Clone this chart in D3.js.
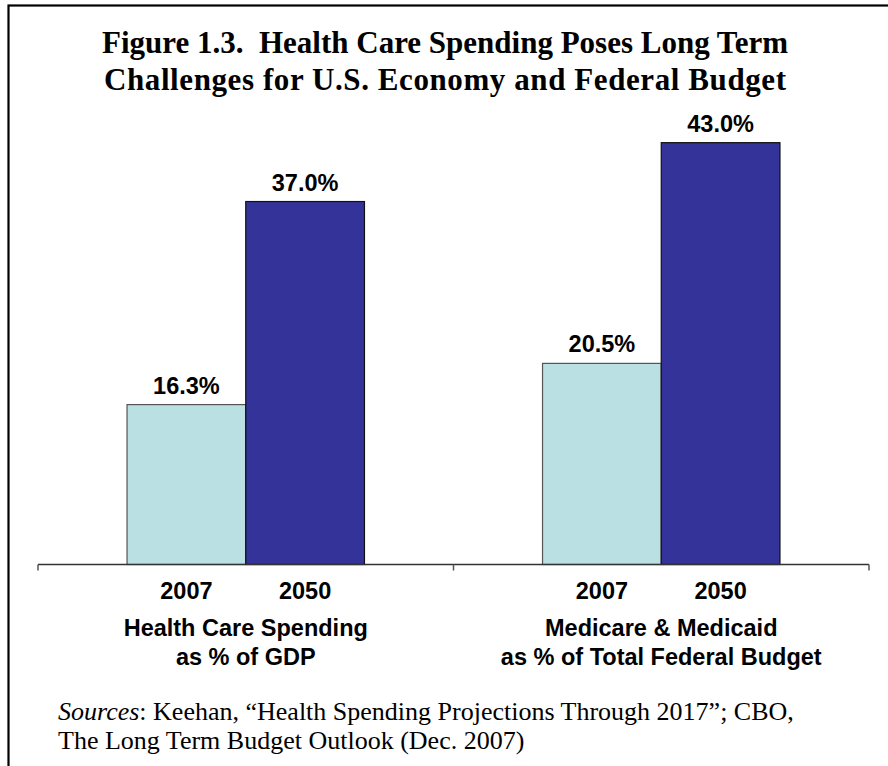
<!DOCTYPE html>
<html>
<head>
<meta charset="utf-8">
<script src="https://cdn.jsdelivr.net/npm/d3@7"></script>
<style>
  html, body { margin: 0; padding: 0; background: #fff; }
  svg { display: block; }
  text { white-space: pre; }
</style>
</head>
<body>
<svg id="chart" width="888" height="766"></svg>
<script>
// ---- data ----
const categories = [
  ["Health Care Spending", "as % of GDP"],
  ["Medicare & Medicaid", "as % of Total Federal Budget"]
];
const series = ["2007", "2050"];
const values2007 = [16.3, 20.5];
const values2050 = [37.0, 43.0];
const valueLabels2007 = ["16.3%", "20.5%"];
const valueLabels2050 = ["37.0%", "43.0%"];
const titleLines = [
  "Figure 1.3.  Health Care Spending Poses Long Term",
  "Challenges for U.S. Economy and Federal Budget"
];

const svg = d3.select("#chart");
const W = 888, H = 766;

// frame (left and top edges visible)
svg.append("rect")
  .attr("x", 8.5).attr("y", 5.5)
  .attr("width", W + 20).attr("height", H + 20)
  .attr("fill", "none").attr("stroke", "#000").attr("stroke-width", 2.2);

// title
svg.append("g").selectAll("text").data(titleLines).join("text")
  .attr("x", 445).attr("y", (d, i) => 53 + i * 37)
  .attr("text-anchor", "middle")
  .attr("xml:space", "preserve")
  .attr("font-family", "'Liberation Serif', 'Times New Roman', serif")
  .attr("font-weight", "bold").attr("font-size", 31)
  .attr("textLength", (d, i) => i === 1 ? 682 : null)
  .attr("lengthAdjust", "spacing")
  .text(d => d);

const baseY = 564.5;
const catKeys = categories.map(c => c.join(" "));
const x0 = d3.scaleBand().domain(catKeys).range([38, 869]).paddingInner(0).paddingOuter(0);
const x1 = d3.scaleBand().domain(series).range([0, x0.bandwidth()]).paddingInner(0).paddingOuter(0.75);
const y = d3.scaleLinear().domain([0, 50]).range([baseY, baseY - 490.5]);

const color = { "2007": "#BBE0E3", "2050": "#333399" };
const strokeC = { "2007": "#555", "2050": "#111" };

const rows = catKeys.map((k, i) => ({
  key: k,
  bars: [
    { s: "2007", v: values2007[i], label: valueLabels2007[i] },
    { s: "2050", v: values2050[i], label: valueLabels2050[i] }
  ]
}));

const g = svg.append("g");
const grp = g.selectAll("g.cat").data(rows).join("g")
  .attr("class", "cat")
  .attr("transform", d => `translate(${x0(d.key)},0)`);

grp.selectAll("rect").data(d => d.bars).join("rect")
  .attr("x", d => x1(d.s))
  .attr("y", d => y(d.v))
  .attr("width", x1.bandwidth())
  .attr("height", d => y(0) - y(d.v))
  .attr("fill", d => color[d.s])
  .attr("stroke", d => strokeC[d.s])
  .attr("stroke-width", 1.2);

grp.selectAll("text.val").data(d => d.bars).join("text")
  .attr("class", "val")
  .attr("x", d => x1(d.s) + x1.bandwidth() / 2)
  .attr("y", d => y(d.v) - 11)
  .attr("text-anchor", "middle")
  .attr("font-family", "'Liberation Sans', Arial, sans-serif")
  .attr("font-weight", "bold").attr("font-size", 23.5)
  .text(d => d.label);

// series tick labels
grp.selectAll("text.ser").data(series).join("text")
  .attr("class", "ser")
  .attr("x", d => x1(d) + x1.bandwidth() / 2)
  .attr("y", 599)
  .attr("text-anchor", "middle")
  .attr("font-family", "'Liberation Sans', Arial, sans-serif")
  .attr("font-weight", "bold").attr("font-size", 23.5)
  .text(d => d);

// category labels
grp.each(function(d, i) {
  d3.select(this).selectAll("text.cat").data(categories[i]).join("text")
    .attr("class", "cat")
    .attr("x", x0.bandwidth() / 2)
    .attr("y", (t, j) => 636 + j * 29)
    .attr("text-anchor", "middle")
    .attr("font-family", "'Liberation Sans', Arial, sans-serif")
    .attr("font-weight", "bold").attr("font-size", 23.5)
    .text(t => t);
});

// axis with ticks between categories
const axis = d3.axisBottom(x0).tickSize(0).tickFormat("");
const ax = svg.append("g").attr("transform", `translate(0,${baseY})`).call(axis);
ax.select(".domain").attr("stroke", "#333").attr("stroke-width", 1.5)
  .attr("d", `M${x0.range()[0]},0H${x0.range()[1]}`);
const boundaries = [x0.range()[0], ...catKeys.map(k => x0(k) + x0.bandwidth())];
ax.selectAll("line.bt").data(boundaries).join("line")
  .attr("class", "bt")
  .attr("x1", d => d).attr("x2", d => d)
  .attr("y1", 0).attr("y2", 6)
  .attr("stroke", "#555").attr("stroke-width", 1.5);

// sources
const src = svg.append("g")
  .attr("font-family", "'Liberation Serif', 'Times New Roman', serif")
  .attr("font-size", 26);
const t1 = src.append("text").attr("x", 58).attr("y", 720);
t1.append("tspan").attr("font-style", "italic").text("Sources");
t1.append("tspan").text(": Keehan, \u201cHealth Spending Projections Through 2017\u201d; CBO,");
src.append("text").attr("x", 58).attr("y", 749)
  .text("The Long Term Budget Outlook (Dec. 2007)");
</script>
</body>
</html>
